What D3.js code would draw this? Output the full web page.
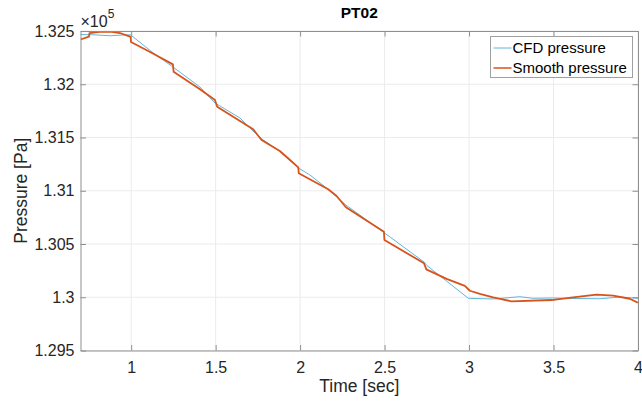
<!DOCTYPE html>
<html>
<head>
<meta charset="utf-8">
<script src="https://cdn.jsdelivr.net/npm/d3@7"></script>
<style>
  body { margin: 0; background: #fff; }
  svg { font-family: "Liberation Sans", Arial, sans-serif; }
  .tick-text { font-size: 16px; fill: #262626; }
  .label-text { font-size: 17.5px; fill: #262626; }
  .title-text { font-size: 15.5px; font-weight: bold; fill: #000; }
  .legend-text { font-size: 15px; fill: #000; }
</style>
</head>
<body>
<div id="chart"></div>
<script>
// time [sec] and pressure [Pa]
const cfdTime = [0.70, 0.786, 0.875, 0.934, 0.996, 1.123, 1.247, 1.407, 1.496, 1.644, 1.721, 1.774,
  1.880, 1.990, 2.058, 2.164, 2.271, 2.496, 2.733, 2.750, 2.996, 3.143, 3.301, 3.378, 3.496,
  3.638, 3.774, 3.892, 4.0];
const cfdPressure = [132467, 132464, 132455, 132461, 132464, 132303, 132162, 131974, 131824, 131683,
  131561, 131486, 131369, 131214, 131148, 131016, 130866, 130608, 130331, 130298, 129990, 129984,
  130005, 129990, 129993, 129988, 129986, 130002, 129990];

const smoothTime = [0.70, 0.750, 0.753, 0.815, 0.875, 0.934, 0.997, 0.999, 1.123, 1.247, 1.251,
  1.407, 1.496, 1.509, 1.722, 1.772, 1.880, 1.940, 1.989, 1.992, 2.166, 2.216, 2.271, 2.496, 2.499,
  2.733, 2.747, 2.867, 2.975, 3.005, 3.064, 3.143, 3.251, 3.488, 3.616, 3.754, 3.853, 3.951, 3.999];
const smoothPressure = [132420, 132448, 132481, 132493, 132495, 132481, 132444, 132397, 132293,
  132187, 132118, 131953, 131852, 131789, 131577, 131477, 131373, 131289, 131220, 131164, 131014,
  130951, 130845, 130616, 130538, 130319, 130262, 130173, 130106, 130061, 130031, 129999, 129962,
  129974, 129999, 130024, 130015, 129986, 129949];

const xTicks = [1, 1.5, 2, 2.5, 3, 3.5, 4];
const yTicks = [129500, 130000, 130500, 131000, 131500, 132000, 132500];
const seriesNames = ["CFD pressure", "Smooth pressure"];
const seriesColors = ["#62b4dc", "#d95319"];

const W = 642, H = 404;
const plot = { left: 80.5, right: 638, top: 31, bottom: 350.5 };

const svg = d3.select("#chart").append("svg")
  .attr("width", W)
  .attr("height", H);

const x = d3.scaleLinear().domain([0.7, 4]).range([plot.left, plot.right]);
const y = d3.scaleLinear().domain([129500, 132500]).range([plot.bottom, plot.top]);
const fmtY = v => String(+(v / 1e5).toFixed(3));

// grid
svg.append("g").selectAll("line")
  .data(xTicks).enter().append("line")
  .attr("x1", d => x(d)).attr("x2", d => x(d))
  .attr("y1", plot.top).attr("y2", plot.bottom)
  .attr("stroke", "#ebebeb");
svg.append("g").selectAll("line")
  .data(yTicks).enter().append("line")
  .attr("x1", plot.left).attr("x2", plot.right)
  .attr("y1", d => y(d)).attr("y2", d => y(d))
  .attr("stroke", "#ebebeb");

// lines
svg.append("defs").append("clipPath").attr("id", "clip")
  .append("rect")
  .attr("x", plot.left).attr("y", plot.top)
  .attr("width", plot.right - plot.left).attr("height", plot.bottom - plot.top);

const line = d3.line().x(d => x(d[0])).y(d => y(d[1]));

svg.append("path")
  .datum(cfdTime.map((t, i) => [t, cfdPressure[i]]))
  .attr("clip-path", "url(#clip)")
  .attr("d", line)
  .attr("fill", "none")
  .attr("stroke", seriesColors[0])
  .attr("stroke-width", 1);

svg.append("path")
  .datum(smoothTime.map((t, i) => [t, smoothPressure[i]]))
  .attr("clip-path", "url(#clip)")
  .attr("d", line)
  .attr("fill", "none")
  .attr("stroke", seriesColors[1])
  .attr("stroke-width", 1.8)
  .attr("stroke-linejoin", "round");

// axes, ticks inside, box
const tickLen = 5.5;
const axisColor = "#8f8f8f";

const xb = svg.append("g")
  .attr("transform", `translate(0,${plot.bottom})`)
  .call(d3.axisBottom(x).tickValues(xTicks).tickSizeInner(-tickLen).tickSizeOuter(0).tickPadding(11).tickFormat(d3.format("")));
const xt = svg.append("g")
  .attr("transform", `translate(0,${plot.top})`)
  .call(d3.axisTop(x).tickValues(xTicks).tickSizeInner(-tickLen).tickSizeOuter(0).tickFormat(""));
const yl = svg.append("g")
  .attr("transform", `translate(${plot.left},0)`)
  .call(d3.axisLeft(y).tickValues(yTicks).tickSizeInner(-tickLen).tickSizeOuter(0).tickPadding(6).tickFormat(fmtY));
const yr = svg.append("g")
  .attr("transform", `translate(${plot.right},0)`)
  .call(d3.axisRight(y).tickValues(yTicks).tickSizeInner(-tickLen).tickSizeOuter(0).tickFormat(""));

[xb, xt, yl, yr].forEach(g => {
  g.select(".domain").attr("stroke", axisColor);
  g.selectAll(".tick line").attr("stroke", axisColor);
  g.selectAll("text").attr("class", "tick-text").attr("font-family", null).attr("font-size", null).attr("fill", null);
});
xb.selectAll("text").attr("dy", "0.71em");

// exponent
const expo = svg.append("text")
  .attr("x", plot.left)
  .attr("y", 27)
  .attr("class", "tick-text");
expo.append("tspan").text("\u00d710");
expo.append("tspan").attr("dy", -9).style("font-size", "12px").text("5");

// title and labels
svg.append("text")
  .attr("x", (plot.left + plot.right) / 2)
  .attr("y", 18)
  .attr("text-anchor", "middle")
  .attr("class", "title-text")
  .text("PT02");

svg.append("text")
  .attr("x", (plot.left + plot.right) / 2)
  .attr("y", 392)
  .attr("text-anchor", "middle")
  .attr("class", "label-text")
  .text("Time [sec]");

svg.append("text")
  .attr("transform", "rotate(-90)")
  .attr("x", -(plot.top + plot.bottom) / 2)
  .attr("y", 27)
  .attr("text-anchor", "middle")
  .attr("class", "label-text")
  .text("Pressure [Pa]");

// legend
const legend = svg.append("g").attr("transform", "translate(490.5,36.5)");
legend.append("rect")
  .attr("width", 142)
  .attr("height", 41)
  .attr("fill", "#fff")
  .attr("stroke", "#a0a0a0");

seriesNames.forEach((name, i) => {
  const row = legend.append("g").attr("transform", `translate(0,${11.5 + i * 20})`);
  row.append("line")
    .attr("x1", 3).attr("x2", 21)
    .attr("stroke", seriesColors[i])
    .attr("stroke-width", i === 0 ? 1 : 1.5);
  row.append("text")
    .attr("x", 22)
    .attr("dy", "0.35em")
    .attr("class", "legend-text")
    .text(name);
});
</script>
</body>
</html>
